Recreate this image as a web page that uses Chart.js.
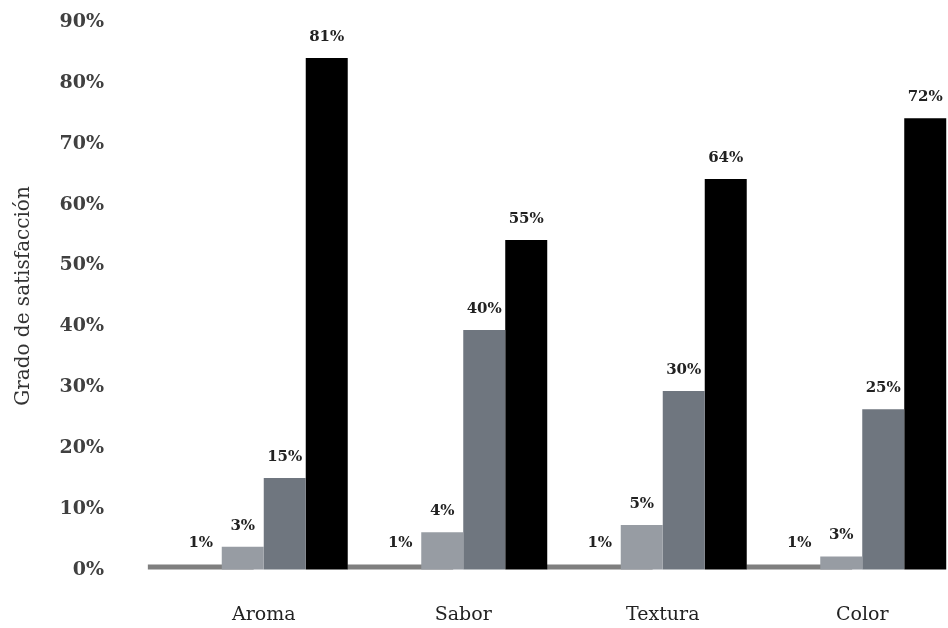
<!DOCTYPE html>
<html>
<head>
<meta charset="utf-8">
<script src="https://cdn.jsdelivr.net/npm/chart.js@4"></script>
<style>
  html, body { margin: 0; padding: 0; background: #fff; overflow: hidden; }
  #wrap { width: 962px; height: 628px; }
</style>
</head>
<body>
<div id="wrap"><canvas id="chart" width="962" height="628"></canvas></div>
<script>
// categorias y series
const categories = ['Aroma', 'Sabor', 'Textura', 'Color']
const yTicks = [0, 10, 20, 30, 40, 50, 60, 70, 80, 90]

const serieGris = [0.9, 0.9, 0.9, 0.9]
const serieClara = [3.8, 6.2, 7.4, 2.2]
const serieMedia = [15.1, 39.4, 29.4, 26.4]
const serieNegra = [84.1, 54.2, 64.2, 74.2]

// textos de las etiquetas tal como aparecen
const labelsGris = ['1%', '1%', '1%', '1%']
const labelsClara = ['3%', '4%', '5%', '3%']
const labelsMedia = ['15%', '40%', '30%', '25%']
const labelsNegra = ['81%', '55%', '64%', '72%']

const serif = "'DejaVu Serif', 'Liberation Serif', serif"
const noLine = 'rgba(0,0,0,0)'

// la barra gris va debajo de las demas
const grayBehind = {
  id: 'grayBehind',
  beforeDatasetsDraw(chart) {
    chart.getDatasetMeta(0).controller.draw()
  },
  beforeDatasetDraw(chart, args) {
    if (args.index === 0) return false
  }
}

// etiquetas encima de cada barra
const barLabels = {
  id: 'barLabels',
  afterDatasetsDraw(chart) {
    const ctx = chart.ctx
    const texts = [labelsGris, labelsClara, labelsMedia, labelsNegra]
    ctx.save()
    ctx.font = 'bold 15px ' + serif
    ctx.fillStyle = '#222'
    ctx.textAlign = 'center'
    ctx.textBaseline = 'middle'
    chart.data.datasets.forEach((ds, i) => {
      const meta = chart.getDatasetMeta(i)
      meta.data.forEach((bar, j) => {
        ctx.fillText(texts[i][j], bar.x, bar.y - 21)
      })
    })
    ctx.restore()
  }
}

new Chart(document.getElementById('chart'), {
  type: 'bar',
  data: {
    labels: categories,
    datasets: [
      { data: serieGris, backgroundColor: '#7f7f7f', barPercentage: 2.52 },
      { data: serieClara, backgroundColor: '#979ca3' },
      { data: serieMedia, backgroundColor: '#6f767f' },
      { data: serieNegra, backgroundColor: '#000000' }
    ]
  },
  options: {
    responsive: false,
    animation: false,
    layout: { padding: { top: 22, left: 0, right: 0, bottom: 0 } },
    datasets: {
      bar: { categoryPercentage: 0.842, barPercentage: 1, borderWidth: 0 }
    },
    plugins: {
      legend: { display: false },
      tooltip: { enabled: false }
    },
    scales: {
      x: {
        grid: { display: true, drawOnChartArea: false, drawTicks: true, tickLength: 34, color: noLine },
        border: { display: false },
        ticks: {
          padding: 0,
          color: '#222',
          font: { family: serif, size: 19 }
        },
        afterFit(scale) { scale.height = 58 }
      },
      y: {
        min: 0,
        max: 90,
        afterBuildTicks(scale) { scale.ticks = yTicks.map(v => ({ value: v })) },
        grid: { display: true, drawOnChartArea: false, drawTicks: true, tickLength: 60, color: noLine },
        border: { display: false },
        ticks: {
          padding: 0,
          color: '#404040',
          font: { family: serif, size: 19, weight: 'bold' },
          callback: v => v + '%'
        },
        title: {
          display: true,
          text: 'Grado de satisfacción',
          color: '#333',
          padding: { top: 12, bottom: 0 },
          font: { family: serif, size: 20 }
        },
        afterFit(scale) { scale.width = 164 }
      }
    }
  },
  plugins: [grayBehind, barLabels]
})
</script>
</body>
</html>
